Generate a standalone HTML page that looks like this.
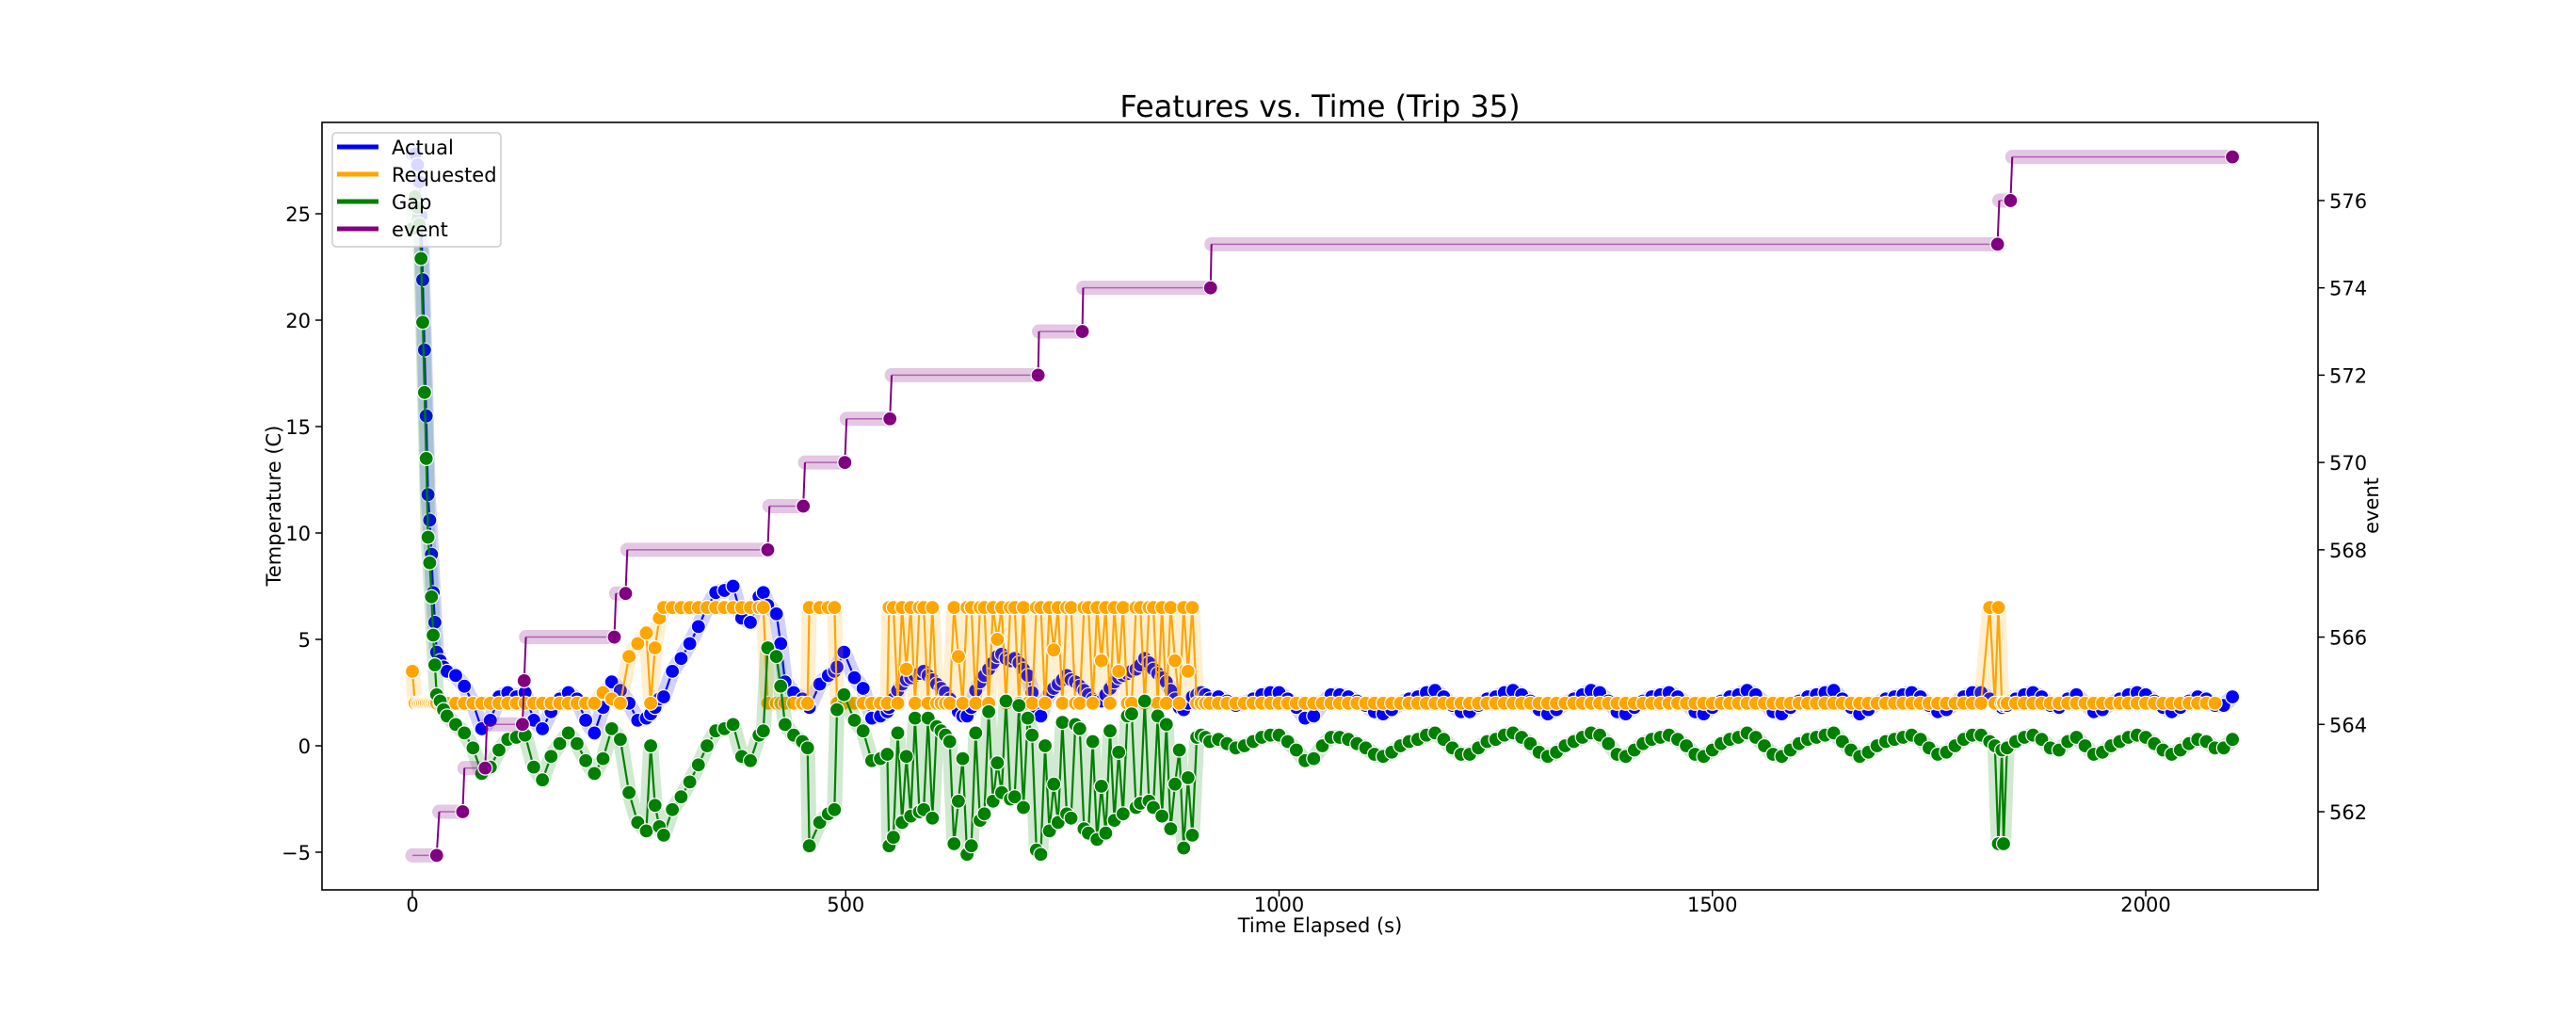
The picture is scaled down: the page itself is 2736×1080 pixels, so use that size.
<!DOCTYPE html>
<html><head><meta charset="utf-8"><style>
html,body{margin:0;padding:0;background:#fff;}
svg{display:block;font-family:"DejaVu Sans","Liberation Sans",sans-serif;}
</style></head><body>
<svg id="chart" width="2736" height="1080" viewBox="0 0 2736 1080" xmlns="http://www.w3.org/2000/svg">
<rect x="0" y="0" width="2736" height="1080" fill="#fff"/>
<defs><clipPath id="plotclip"><rect x="342" y="130" width="2120" height="815"/></clipPath></defs>
<text x="1402" y="124" text-anchor="middle" font-size="32" fill="#000">Features vs. Time (Trip 35)</text>
<g id="series" clip-path="url(#plotclip)"></g>
<rect x="342" y="130" width="2120" height="815" fill="none" stroke="#000" stroke-width="1.6"/>
<g id="xticks"></g>
<g id="yticks"></g>
<g id="rticks"></g>
<text x="1402" y="990" text-anchor="middle" font-size="21">Time Elapsed (s)</text>
<text x="0" y="0" transform="translate(298,537) rotate(-90)" text-anchor="middle" font-size="21">Temperature (C)</text>
<text x="0" y="0" transform="translate(2526,537) rotate(-90)" text-anchor="middle" font-size="21">event</text>
<g>
<rect x="353" y="141" width="179" height="121" rx="4" fill="#fff" fill-opacity="0.85" stroke="#ccc" stroke-width="1.5"/>
<g><line x1="358" y1="156" x2="402" y2="156" stroke="#0000ff" stroke-width="5"/><text x="416" y="164" font-size="21">Actual</text></g>
<g><line x1="358" y1="185" x2="402" y2="185" stroke="#ffa500" stroke-width="5"/><text x="416" y="193" font-size="21">Requested</text></g>
<g><line x1="358" y1="214" x2="402" y2="214" stroke="#008000" stroke-width="5"/><text x="416" y="222" font-size="21">Gap</text></g>
<g><line x1="358" y1="243" x2="402" y2="243" stroke="#800080" stroke-width="5"/><text x="416" y="251" font-size="21">event</text></g>
</g>
</svg>
<script>
const times=[0,3,6,8,10,12,14,16,18,20,22,24,26,28,32,36,40,50,60,70,80,90,100,110,120,130,140,150,160,170,180,190,200,210,220,230,240,250,260,270,275,280,285,290,300,310,320,330,340,350,360,370,380,390,400,405,410,420,425,430,440,450,456,458,470,480,487,490,498,510,520,530,540,548,
550,555,560,565,570,575,580,585,590,595,600,605,610,615,620,625,630,635,640,645,650,655,660,665,670,675,680,685,690,695,700,705,710,715,720,725,730,735,740,745,750,755,760,765,770,775,780,785,790,795,800,805,810,815,820,825,830,835,840,845,850,855,860,865,870,875,880,885,890,895,900,905,910,915,920,
930,940,950,960,970,980,990,1000,1010,1020,1030,1040,1050,1060,1070,1080,1090,1100,1110,1120,1130,1140,1150,1160,1170,1180,1190,1200,1210,1220,1230,1240,1250,1260,1270,1280,1290,1300,1310,1320,1330,1340,1350,1360,1370,1380,1390,1400,1410,1420,1430,1440,1450,1460,1470,1480,1490,1500,1510,1520,1530,1540,1550,1560,1570,1580,1590,1600,1610,1620,1630,1640,1650,1660,1670,1680,1690,1700,1710,1720,1730,1740,1750,1760,1770,1780,1790,1800,1810,1820,1826,1830,1834,1836,1840,1850,1860,1870,1880,1890,1900,1910,1920,1930,1940,1950,1960,1970,1980,1990,2000,2010,2020,2030,2040,2050,2060,2070,2080,2090,2100];
const actual=[27.8,27.8,27.3,26.5,24.9,21.9,18.6,15.5,11.8,10.6,9.0,7.2,5.8,4.4,4.0,3.7,3.5,3.3,2.8,2.0,0.8,1.2,2.3,2.5,2.3,2.5,1.2,0.8,1.6,2.2,2.5,2.2,1.2,0.6,1.8,3.0,2.6,2.0,1.2,1.3,1.5,1.8,2.2,2.3,3.5,4.1,4.8,5.6,6.5,7.2,7.3,7.5,6.0,5.8,7.0,7.2,6.6,6.2,4.8,3.0,2.5,2.2,1.9,1.8,2.9,3.3,3.5,3.7,4.4,3.2,2.7,1.3,1.4,1.6,
1.8,2.2,2.6,2.9,3.1,3.2,3.3,3.4,3.5,3.3,3.1,2.9,2.7,2.5,2.2,1.9,1.6,1.4,1.4,1.8,2.6,3.0,3.3,3.6,3.9,4.2,4.3,4.1,4.0,4.1,3.9,3.6,3.3,2.5,1.6,1.4,2.0,2.5,2.7,2.9,3.1,3.3,3.1,3.0,2.8,2.6,2.4,2.2,2.1,2.1,2.4,2.7,3.0,3.2,3.3,3.4,3.5,3.6,3.8,4.1,3.9,3.6,3.4,3.2,3.0,2.6,2.2,1.8,1.7,2.0,2.3,2.4,2.5,2.4,2.2,
2.3,2.1,1.9,2.0,2.2,2.4,2.5,2.5,2.2,1.8,1.3,1.4,2.0,2.4,2.4,2.3,2.1,1.9,1.6,1.5,1.7,2.0,2.2,2.3,2.5,2.6,2.3,1.9,1.6,1.6,1.9,2.2,2.3,2.5,2.6,2.4,2.1,1.7,1.5,1.7,2.0,2.2,2.4,2.6,2.5,2.1,1.6,1.5,1.8,2.1,2.3,2.4,2.5,2.3,2.0,1.6,1.5,1.8,2.1,2.3,2.4,2.6,2.4,2.0,1.6,1.5,1.8,2.1,2.3,2.4,2.5,2.6,2.2,1.8,1.5,1.7,2.0,2.2,2.3,2.4,2.5,2.3,1.9,1.6,1.7,2.0,2.3,2.5,2.5,2.2,2.0,1.9,1.8,1.9,1.9,2.2,2.4,2.5,2.3,1.9,1.8,2.2,2.4,2.0,1.6,1.7,2.0,2.2,2.4,2.5,2.4,2.1,1.8,1.6,1.8,2.1,2.3,2.2,1.9,1.9,2.3];
const requested=[3.5,2,2,2,2,2,2,2,2,2,2,2,2,2,2,2,2,2,2,2,2,2,2,2,2,2,2,2,2,2,2,2,2,2,2.5,2.2,2,4.2,4.8,5.3,2,4.6,6.0,6.5,6.5,6.5,6.5,6.5,6.5,6.5,6.5,6.5,6.5,6.5,6.5,6.5,2,2,2,2,2,2,2,6.5,6.5,6.5,6.5,2,2,2,2,2,2,2,
6.5,6.5,2,6.5,3.6,6.5,2,6.5,6.5,2,6.5,2,2,2,2,6.5,4.2,2,6.5,6.5,2,6.5,6.5,2,6.5,5.0,6.5,2,6.5,6.5,2,6.5,2,2,6.5,6.5,2,6.5,4.5,6.5,2,6.5,6.5,2,2,6.5,6.5,2,6.5,4.0,6.5,2,6.5,3.5,6.5,2,2,6.5,6.5,2,6.5,6.5,2,6.5,2,6.5,4.0,2,6.5,3.5,6.5,2,2,2,2,
2,2,2,2,2,2,2,2,2,2,2,2,2,2,2,2,2,2,2,2,2,2,2,2,2,2,2,2,2,2,2,2,2,2,2,2,2,2,2,2,2,2,2,2,2,2,2,2,2,2,2,2,2,2,2,2,2,2,2,2,2,2,2,2,2,2,2,2,2,2,2,2,2,2,2,2,2,2,2,2,2,2,2,2,2,2,2,2,2,6.5,2,6.5,2,2,2,2,2,2,2,2,2,2,2,2,2,2,2,2,2,2,2,2,2,2,2,2,2,2,2];
const gap=[24.3,25.8,25.3,24.5,22.9,19.9,16.6,13.5,9.8,8.6,7.0,5.2,3.8,2.4,2.1,1.7,1.4,1.0,0.6,-0.1,-1.3,-1.0,-0.2,0.3,0.4,0.5,-1.0,-1.6,-0.5,0.1,0.6,0.1,-0.7,-1.3,-0.6,0.8,0.3,-2.2,-3.6,-4.0,0.0,-2.8,-3.8,-4.2,-3.0,-2.4,-1.7,-0.9,0.0,0.7,0.8,1.0,-0.5,-0.7,0.5,0.7,4.6,4.2,2.8,1.0,0.5,0.2,-0.1,-4.7,-3.6,-3.2,-3.0,1.7,2.4,1.2,0.7,-0.7,-0.6,-0.4,
-4.7,-4.3,0.6,-3.6,-0.5,-3.3,1.3,-3.1,-3.0,1.3,-3.4,0.9,0.7,0.5,0.2,-4.6,-2.6,-0.6,-5.1,-4.7,0.6,-3.5,-3.2,1.6,-2.6,-0.8,-2.2,2.1,-2.5,-2.4,1.9,-2.9,1.3,0.5,-4.9,-5.1,0.0,-4.0,-1.8,-3.6,1.1,-3.2,-3.4,1.0,0.8,-3.9,-4.1,0.2,-4.4,-1.9,-4.1,0.7,-3.5,-0.3,-3.2,1.4,1.5,-2.9,-2.7,2.1,-2.6,-2.9,1.4,-3.3,1.0,-3.9,-1.8,-0.2,-4.8,-1.5,-4.2,0.4,0.5,0.4,0.2,
0.3,0.1,-0.1,0.0,0.2,0.4,0.5,0.5,0.2,-0.2,-0.7,-0.6,0.0,0.4,0.4,0.3,0.1,-0.1,-0.4,-0.5,-0.3,0.0,0.2,0.3,0.5,0.6,0.3,-0.1,-0.4,-0.4,-0.1,0.2,0.3,0.5,0.6,0.4,0.1,-0.3,-0.5,-0.3,0.0,0.2,0.4,0.6,0.5,0.1,-0.4,-0.5,-0.2,0.1,0.3,0.4,0.5,0.3,0.0,-0.4,-0.5,-0.2,0.1,0.3,0.4,0.6,0.4,0.0,-0.4,-0.5,-0.2,0.1,0.3,0.4,0.5,0.6,0.2,-0.2,-0.5,-0.3,0.0,0.2,0.3,0.4,0.5,0.3,-0.1,-0.4,-0.3,0.0,0.3,0.5,0.5,0.2,0.0,-4.6,-0.2,-4.6,-0.1,0.2,0.4,0.5,0.3,-0.1,-0.2,0.2,0.4,0.0,-0.4,-0.3,0.0,0.2,0.4,0.5,0.4,0.1,-0.2,-0.4,-0.2,0.1,0.3,0.2,-0.1,-0.1,0.3];
const eventLevels=[561,562,563,564,565,566,567,568,569,570,571,572,573,574,575,576,577];
const eventStart=[0,31,60,86,129,131,235,248,412,453,501,553,723,774,922,1831,1846];
const eventEnd=[28,58,84,127,129,233,246,410,451,499,551,722,773,921,1829,1844,2100];
const xTicks=[0,500,1000,1500,2000];
const yTicks=[-5,0,5,10,15,20,25];
const rTicks=[562,564,566,568,570,572,574,576];

const NS='http://www.w3.org/2000/svg';
const X0=342,X1=2462,Y0=130,Y1=945;
function xS(t){return 438+t*0.9205;}
function yL(v){return 792-v*22.6;}
function yR(e){return 862-(e-562)*46.36;}
function mk(tag,attrs,parent){const el=document.createElementNS(NS,tag);for(const k in attrs)el.setAttribute(k,attrs[k]);parent.appendChild(el);return el;}
const G=document.getElementById('series');

function drawSeries(vals,color,name){
  const g=mk('g',{},G);
  
  
  let d='';
  for(let i=0;i<times.length;i++){d+=(i?'L':'M')+xS(times[i]).toFixed(1)+' '+yL(vals[i]).toFixed(1);}
  const halo=mk('path',{d:d,fill:'none',stroke:color,'stroke-opacity':0.18,'stroke-width':16,'stroke-linejoin':'round','stroke-linecap':'round'},g);
  
  
  const ln=mk('path',{d:d,fill:'none',stroke:color,'stroke-width':2.2},g);
  
  
  for(let i=0;i<times.length;i++){
    const c=mk('circle',{cx:xS(times[i]).toFixed(1),cy:yL(vals[i]).toFixed(1),r:7.5,fill:color,stroke:'#fff','stroke-width':1.2},g);
    
    
  }
}
drawSeries(actual,'#0000ff','actual');
drawSeries(requested,'#ffa500','requested');
drawSeries(gap,'#008000','gap');

const eg=mk('g',{},G);


for(let i=0;i<eventLevels.length;i++){
  const y=yR(eventLevels[i]);
  const band=mk('line',{x1:xS(eventStart[i]),y1:y,x2:xS(eventEnd[i]),y2:y,stroke:'#800080','stroke-opacity':0.22,'stroke-width':15,'stroke-linecap':'round'},eg);
  
  
  const ln=mk('line',{x1:xS(eventStart[i]),y1:y,x2:xS(eventEnd[i]),y2:y,stroke:'#800080','stroke-width':1.5,'stroke-opacity':0.5},eg);
  
  
  if(i+1<eventLevels.length){
    const st=mk('line',{x1:xS(eventEnd[i]),y1:y,x2:xS(eventStart[i+1]),y2:yR(eventLevels[i+1]),stroke:'#800080','stroke-width':2},eg);
    
    
  }
  const dot=mk('circle',{cx:xS(eventEnd[i]),cy:y,r:7.5,fill:'#800080',stroke:'#fff','stroke-width':1.2},eg);
  
  
}

const xg=document.getElementById('xticks');
xTicks.forEach(t=>{
  const x=xS(t);
  const l=mk('line',{x1:x,y1:Y1,x2:x,y2:Y1+7,stroke:'#000','stroke-width':1.5},xg);
  
  
  const tx=mk('text',{x:x,y:Y1+23,'text-anchor':'middle','font-size':21},xg);
  tx.textContent=t;
  
  
});
const yg=document.getElementById('yticks');
yTicks.forEach(v=>{
  const y=yL(v);
  const l=mk('line',{x1:X0-7,y1:y,x2:X0,y2:y,stroke:'#000','stroke-width':1.5},yg);
  
  
  const tx=mk('text',{x:X0-12,y:y+8,'text-anchor':'end','font-size':21},yg);
  tx.textContent=v<0?'\u2212'+Math.abs(v):String(v);
  
  
});
const rg=document.getElementById('rticks');
rTicks.forEach(v=>{
  const y=yR(v);
  const l=mk('line',{x1:X1,y1:y,x2:X1+7,y2:y,stroke:'#000','stroke-width':1.5},rg);
  
  
  const tx=mk('text',{x:X1+12,y:y+8,'text-anchor':'start','font-size':21},rg);
  tx.textContent=v;
  
  
});
</script>
</body></html>
